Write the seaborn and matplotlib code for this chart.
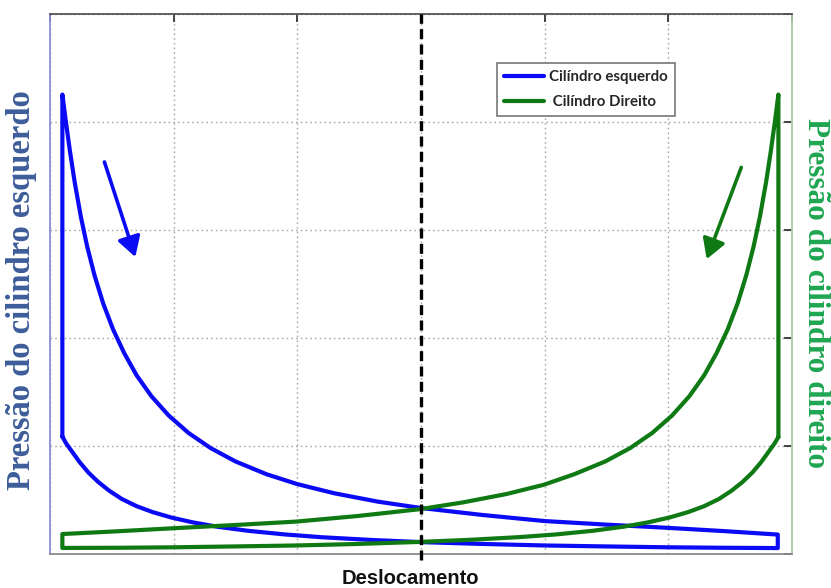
import numpy as np
import pandas as pd
import matplotlib
matplotlib.use("Agg")
import matplotlib.pyplot as plt
import seaborn as sns

# ---- data (x: displacement 0..6, y: pressure 0..5) ----
# Left cylinder: vertical rise, expansion curve (to the right), right end, compression curve (back)
left_up_x = [0.10, 0.10, 0.13, 0.16, 0.20, 0.25, 0.30, 0.36, 0.43, 0.51, 0.60, 0.70, 0.82,
             0.96, 1.12, 1.30, 1.50, 1.75, 2.00, 2.30, 2.65, 3.00, 3.50, 4.00, 4.50, 5.00,
             5.45, 5.885]
left_up_y = [1.087, 4.254, 3.99, 3.74, 3.44, 3.12, 2.85, 2.58, 2.32, 2.08, 1.86, 1.655, 1.461,
             1.282, 1.121, 0.980, 0.857, 0.739, 0.647, 0.562, 0.485, 0.426, 0.361, 0.305,
             0.272, 0.242, 0.212, 0.180]
left_back_x = [5.885, 5.40, 5.00, 4.50, 4.00, 3.50, 3.00, 2.60, 2.20, 1.90, 1.60, 1.35, 1.15,
               0.98, 0.83, 0.70, 0.58, 0.48, 0.39, 0.31, 0.24, 0.18, 0.13, 0.10]
left_back_y = [0.055, 0.058, 0.062, 0.070, 0.079, 0.093, 0.110, 0.130, 0.155, 0.181, 0.215,
               0.253, 0.294, 0.338, 0.388, 0.443, 0.510, 0.585, 0.667, 0.755, 0.850, 0.945,
               1.025, 1.087]

# Right cylinder: vertical rise, expansion curve (to the left), left end, compression curve (back)
right_up_x = [5.89, 5.89, 5.86, 5.83, 5.79, 5.74, 5.69, 5.63, 5.56, 5.48, 5.39, 5.29, 5.17,
              5.03, 4.87, 4.69, 4.49, 4.24, 3.99, 3.69, 3.34, 2.99, 2.49, 1.99, 1.49, 0.99,
              0.54, 0.10]
right_up_y = [1.084, 4.254, 3.99, 3.74, 3.44, 3.12, 2.85, 2.58, 2.32, 2.08, 1.86, 1.655, 1.461,
              1.282, 1.121, 0.980, 0.857, 0.739, 0.640, 0.555, 0.478, 0.415, 0.352, 0.300,
              0.268, 0.238, 0.210, 0.185]
right_back_x = [0.10, 0.59, 0.99, 1.49, 1.99, 2.49, 2.99, 3.39, 3.79, 4.09, 4.39, 4.64, 4.84,
                5.01, 5.16, 5.29, 5.41, 5.51, 5.60, 5.68, 5.75, 5.81, 5.86, 5.89]
right_back_y = [0.056, 0.058, 0.062, 0.070, 0.079, 0.093, 0.112, 0.131, 0.156, 0.181, 0.215,
                0.253, 0.294, 0.338, 0.388, 0.443, 0.510, 0.585, 0.667, 0.755, 0.850, 0.945,
                1.025, 1.084]

series_names = ["Cilíndro esquerdo", " Cilíndro Direito"]
mid_x = 3.0

# arrows (start, tip)
blue_arrow = [(0.44, 3.63), (0.69, 2.75)]
green_arrow = [(5.59, 3.58), (5.31, 2.73)]

x_ticks = [0, 1, 2, 3, 4, 5, 6]
y_ticks = [0, 1, 2, 3, 4, 5]

left_label = "Pressão do cilindro esquerdo"
right_label = "Pressão do cilindro direito"
x_label = "Deslocamento"

BLUE = "#0a0af5"
GREEN = "#0f7a14"

lx = left_up_x + left_back_x
ly = left_up_y + left_back_y
rx = right_up_x + right_back_x
ry = right_up_y + right_back_y
df = pd.concat([
    pd.DataFrame({"x": lx, "y": ly, "s": series_names[0]}),
    pd.DataFrame({"x": rx, "y": ry, "s": series_names[1]}),
], ignore_index=True)

sns.set_style("white")
fig = plt.figure(figsize=(8.31, 5.88), dpi=100)
ax = fig.add_axes([50 / 831, 34 / 588, 742 / 831, 540 / 588])

sns.lineplot(data=df, x="x", y="y", hue="s", sort=False, estimator=None,
             palette=[BLUE, GREEN], linewidth=3.0, ax=ax, legend=True)
for ln in ax.get_lines():
    ln.set_solid_joinstyle("round")

ax.set_xlim(0, 6)
ax.set_ylim(0, 5)
ax.set_xticks(x_ticks)
ax.set_yticks(y_ticks)
ax.grid(True, linestyle=(0, (1.2, 2.2)), color="#a8a8a8", linewidth=1.0)
ax.set_axisbelow(True)
ax.tick_params(direction="in", length=6, width=1.2, top=True, right=True,
               labelbottom=False, labelleft=False)
ax.set_xlabel("")
ax.set_ylabel("")

ax.spines["left"].set_color("#8c8cd8")
ax.spines["right"].set_color("#a6cca6")
ax.spines["top"].set_color("#555555")
ax.spines["bottom"].set_color("#8a8a8a")
for sp in ax.spines.values():
    sp.set_linewidth(1.3)
for t in ax.yaxis.get_major_ticks():
    t.tick1line.set_color("#8c8cd8")
    t.tick2line.set_color("#a6cca6")
for t in ax.xaxis.get_major_ticks():
    t.tick1line.set_color("#555555")
    t.tick2line.set_color("#333333")

ax.axvline(mid_x, color="black", linestyle=(0, (3, 1.6)), linewidth=2.4, zorder=5,
           ymin=-0.012, ymax=1.0, clip_on=False)

for (start, tip), col in [(blue_arrow, BLUE), (green_arrow, GREEN)]:
    ax.annotate("", xy=tip, xytext=start,
                arrowprops=dict(arrowstyle="-|>,head_length=0.6,head_width=0.35", color=col,
                                lw=2.6, mutation_scale=20, shrinkA=0, shrinkB=0))

leg = ax.legend(loc="upper left", bbox_to_anchor=(0.6024, 0.909), borderaxespad=0,
                frameon=True, fancybox=False, edgecolor="#777777", framealpha=1,
                prop={"family": "Lato", "weight": "bold", "size": 10.8},
                handlelength=2.7, borderpad=0.45, labelspacing=0.75, handletextpad=0.35)
leg.get_frame().set_linewidth(1.2)

fig.text(22 / 831, 0.507, left_label, rotation=90, ha="center", va="center",
         family="Liberation Serif", weight="bold", size=23.5, color="#3d5d9a")
fig.text(815 / 831, 0.502, right_label, rotation=-90, ha="center", va="center",
         family="Liberation Serif", weight="bold", size=22.5, color="#1fa652")
fig.text(410 / 831, 1 - 578 / 588, x_label, ha="center", va="center",
         family="Liberation Sans", weight="bold", size=14.5, color="#111111")

fig.savefig("out.png", dpi=100)
